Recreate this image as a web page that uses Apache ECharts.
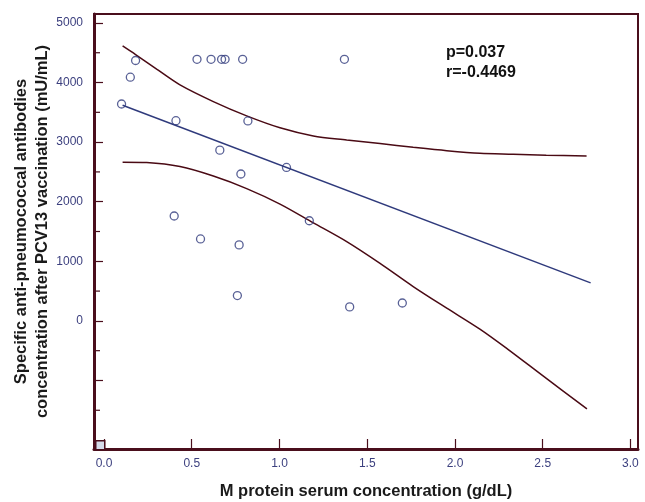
<!DOCTYPE html>
<html><head><meta charset="utf-8">
<script src="https://cdn.jsdelivr.net/npm/echarts@6/dist/echarts.min.js"></script>
<style>html,body{margin:0;padding:0;background:#fff}#c{width:645px;height:502px}</style>
</head><body><div id="c"></div>
<script>
// tick labels
const xTicks = [0, 0.5, 1, 1.5, 2, 2.5, 3];
const yLabels = [0, 1000, 2000, 3000, 4000, 5000];
const yMajorTicks = [-1000, 0, 1000, 2000, 3000, 4000, 5000];
const yMinorTicks = [-1500, -500, 500, 1500, 2500, 3500, 4500];

// observed points
const mProtein   = [0.10, 0.15, 0.18, 0.53, 0.61, 0.67, 0.69, 0.79, 1.37, 0.41, 0.82, 0.66, 1.04, 0.78, 0.40, 1.17, 0.55, 0.77, 0.76, 1.40, 1.70];
const antibodies = [3640, 4090, 4370, 4390, 4390, 4390, 4390, 4390, 4390, 3360, 3355, 2865, 2575, 2465, 1760, 1680, 1375, 1275, 425, 235, 300];

// regression line end points
const fitX = [0.106, 2.773];
const fitY = [3619, 638];

// confidence band
const upperX = [0.106, 0.18, 0.30, 0.433, 0.623, 0.813, 1.003, 1.193, 1.383, 1.573, 1.762, 1.953, 2.142, 2.332, 2.52, 2.75];
const upperY = [4615, 4470, 4225, 3960, 3680, 3440, 3240, 3104, 3037, 2975, 2914, 2857, 2813, 2797, 2780, 2768];
const lowerX = [0.106, 0.243, 0.433, 0.623, 0.813, 1.003, 1.193, 1.383, 1.573, 1.762, 1.953, 2.142, 2.3, 2.5, 2.752];
const lowerY = [2663, 2656, 2589, 2430, 2220, 1960, 1645, 1330, 965, 576, 213, -139, -474, -920, -1476];

const zip = (a, b) => a.map((v, i) => [v, b[i]]);
const FRAME = '#4a0e1c';
const NAVY = '#2f3a7c';
const LABEL = '#3b3f7e';
const FONT = '"Liberation Sans", Arial, sans-serif';
const X_MIN = -0.057, X_MAX = 3.043, Y_MIN = -2150, Y_MAX = 5150;

const chart = echarts.init(document.getElementById('c'));
chart.setOption({
  animation: false,
  backgroundColor: '#fff',
  grid: { left: 94, right: 7, top: 14, bottom: 53, containLabel: false, outerBoundsMode: 'none',
          show: true, borderColor: FRAME, borderWidth: 2, backgroundColor: 'transparent' },
  xAxis: {
    type: 'value', min: X_MIN, max: X_MAX,
    axisLine: { show: true, onZero: false, lineStyle: { color: FRAME, width: 3 } },
    axisTick: { show: true, inside: true, length: 10, customValues: xTicks, lineStyle: { color: FRAME, width: 1.2 } },
    axisLabel: { customValues: xTicks, formatter: v => v.toFixed(1), color: LABEL, fontSize: 12, fontFamily: FONT, margin: 9 },
    splitLine: { show: false },
    name: 'M protein serum concentration (g/dL)', nameLocation: 'middle', nameGap: 34, nameMoveOverlap: false,
    nameTextStyle: { fontWeight: 'bold', fontSize: 16.5, color: '#1a1a1a', fontFamily: FONT }
  },
  yAxis: {
    type: 'value', min: Y_MIN, max: Y_MAX, position: 'left',
    axisLine: { show: true, onZero: false, lineStyle: { color: FRAME, width: 3 } },
    axisTick: { show: true, inside: true, length: 9, customValues: yMajorTicks, lineStyle: { color: FRAME, width: 1.2 } },
    axisLabel: { customValues: yLabels, formatter: v => String(v), color: LABEL, fontSize: 12, fontFamily: FONT, margin: 11 },
    splitLine: { show: false },
    name: 'Specific anti-pneumococcal antibodies\nconcentration after PCV13 vaccination (mU/mL)',
    nameLocation: 'middle', nameGap: 41, nameMoveOverlap: false,
    nameTextStyle: { fontWeight: 'bold', fontSize: 16.5, lineHeight: 21, color: '#1a1a1a', fontFamily: FONT }
  },
  graphic: [
    { type: 'rect', left: 95, top: 440, shape: { width: 9, height: 9 }, style: { fill: '#d5dbea', stroke: FRAME, lineWidth: 1.5 }, z: 100 },
    { type: 'text', left: 446, top: 43, style: { text: 'p=0.037\nr=-0.4469', font: 'bold 16px ' + FONT, lineHeight: 20, fill: '#111' }, z: 100 }
  ],
  series: [
    { type: 'custom', silent: true, clip: false, z: 5,
      data: yMinorTicks.map(v => [X_MIN, v]),
      renderItem: (params, api) => {
        const p = api.coord([api.value(0), api.value(1)]);
        return { type: 'line', shape: { x1: p[0], y1: p[1], x2: p[0] + 6, y2: p[1] }, style: { stroke: FRAME, lineWidth: 1.2 } };
      } },
    { type: 'line', data: zip(upperX, upperY), smooth: 0.3, symbol: 'none', lineStyle: { color: '#4a0a14', width: 1.5 }, z: 2 },
    { type: 'line', data: zip(lowerX, lowerY), smooth: 0.3, symbol: 'none', lineStyle: { color: '#4a0a14', width: 1.5 }, z: 2 },
    { type: 'line', data: zip(fitX, fitY), symbol: 'none', lineStyle: { color: NAVY, width: 1.5 }, z: 2 },
    { type: 'scatter', data: zip(mProtein, antibodies), symbol: 'circle', symbolSize: 8,
      itemStyle: { color: 'rgba(255,255,255,0)', borderColor: NAVY, borderWidth: 1.3 }, z: 3 }
  ]
});
</script>
</body></html>
